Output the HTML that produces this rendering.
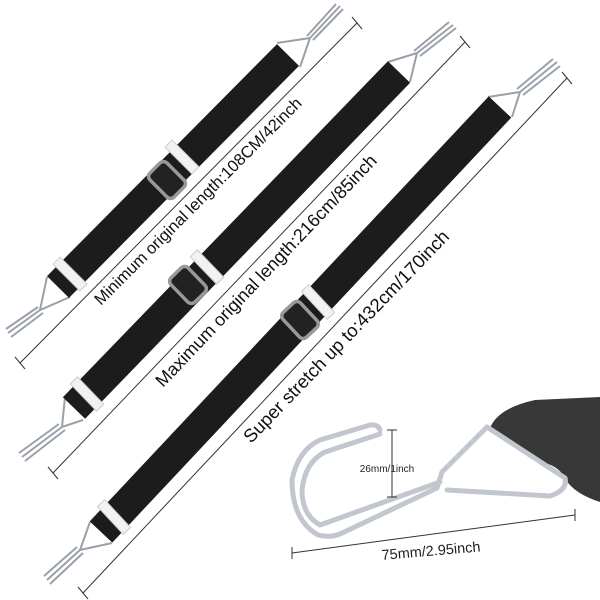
<!DOCTYPE html>
<html><head><style>html,body{margin:0;padding:0;background:#fff}svg{display:block}</style></head>
<body>
<svg width="600" height="600" viewBox="0 0 600 600" xmlns="http://www.w3.org/2000/svg" font-family="Liberation Sans, sans-serif">
<rect width="600" height="600" fill="#fff"/>
<g stroke="#333" stroke-width="1">
<line x1="20" y1="363" x2="357" y2="23"/>
<line x1="15" y1="357" x2="25" y2="369"/><line x1="352" y1="17" x2="362" y2="29"/>
<line x1="53" y1="473" x2="465" y2="42"/>
<line x1="48" y1="467" x2="58" y2="479"/><line x1="460" y1="36" x2="470" y2="48"/>
<line x1="83" y1="593" x2="567" y2="78"/>
<line x1="78" y1="587" x2="88" y2="599"/><line x1="562" y1="72" x2="572" y2="84"/>
</g>
<g fill="#111">
<text font-size="16.5" transform="translate(101,306) rotate(-45)">Minimum original length:108CM/42inch</text>
<text font-size="18" transform="translate(163,388) rotate(-46.5)">Maximum original length:216cm/85inch</text>
<text font-size="18.5" transform="translate(251,444) rotate(-46)">Super stretch up to:432cm/170inch</text>
</g>
<g stroke="#9aa0aa" stroke-width="2" fill="none">
<path d="M277 43 L310 38 L300 67 M310 38 L340 6 M307 36 L336 4 M313 40 L343 9"/>
<path d="M47 277 L40 310 L70 297 M40 310 L8 333 M38 307 L6 329 M43 313 L11 337"/>
<path d="M388 62 L417 53 L410 82 M417 53 L453 25 M414 51 L449 22 M420 56 L456 28"/>
<path d="M65 397 L62 427 L83 420 M62 427 L22 457 M59 424 L19 453 M65 430 L25 461"/>
<path d="M488 97 L520 92 L512 117 M520 92 L557 62 M517 89 L553 59 M523 95 L560 66"/>
<path d="M90 522 L80 550 L112 543 M80 550 L47 580 M77 547 L44 576 M83 553 L50 584"/>
</g>
<g stroke="#1c1c1c" stroke-width="31" stroke-linecap="butt">
<line x1="58" y1="287" x2="288" y2="55"/>
<line x1="74" y1="408" x2="399" y2="72"/>
<line x1="101" y1="532" x2="500" y2="107"/>
</g>
<g fill="#f2f2f2" stroke="#ccc" stroke-width="1">
<rect x="-19" y="-5" width="38" height="10" transform="translate(70,274) rotate(45)"/>
<rect x="-19" y="-5" width="38" height="10" transform="translate(182,157) rotate(45)"/>
<rect x="-19" y="-5" width="38" height="10" transform="translate(87,394) rotate(46)"/>
<rect x="-19" y="-5" width="38" height="10" transform="translate(207,267) rotate(46)"/>
<rect x="-19" y="-5" width="38" height="10" transform="translate(114,517) rotate(47)"/>
<rect x="-19" y="-5" width="38" height="10" transform="translate(318,302) rotate(47)"/>
</g>
<g fill="#222" stroke="#999" stroke-width="3.5">
<rect x="-17" y="-12" width="34" height="24" rx="5" transform="translate(167,180) rotate(45)"/>
<rect x="-17" y="-12" width="34" height="24" rx="5" transform="translate(188,285) rotate(46)"/>
<rect x="-17" y="-12" width="34" height="24" rx="5" transform="translate(300,320) rotate(47)"/>
</g>
<path d="M490 428 Q498 408 535 400 L600 397 L600 502 Q575 494 566 480 Q560 467 545 463 L505 440 Z" fill="#383838"/>
<g fill="none" stroke="#c2c6ce" stroke-width="5" stroke-linejoin="round" stroke-linecap="round">
<path d="M380 430 Q378 424 370 425 L320 440 Q298 450 292 480 Q292 520 318 535 Q330 538 340 534 L437 488 L442 472 L487 427 L565 478 Q568 490 550 496 L447 490"/>
<path d="M380 434 L325 452 Q305 462 302 490 Q302 515 320 525 L440 482"/>
</g>
<g stroke="#333" stroke-width="1">
<line x1="392" y1="430" x2="392" y2="497"/><line x1="387" y1="430" x2="397" y2="430"/><line x1="387" y1="497" x2="397" y2="497"/>
<line x1="292" y1="553" x2="575" y2="515"/><line x1="292" y1="547" x2="292" y2="559"/><line x1="575" y1="509" x2="575" y2="521"/>
</g>
<text x="387" y="472" font-size="10" fill="#222" text-anchor="middle">26mm/1inch</text>
<text transform="translate(382,560) rotate(-5)" font-size="14.5" fill="#222">75mm/2.95inch</text>
</svg>
</body></html>
